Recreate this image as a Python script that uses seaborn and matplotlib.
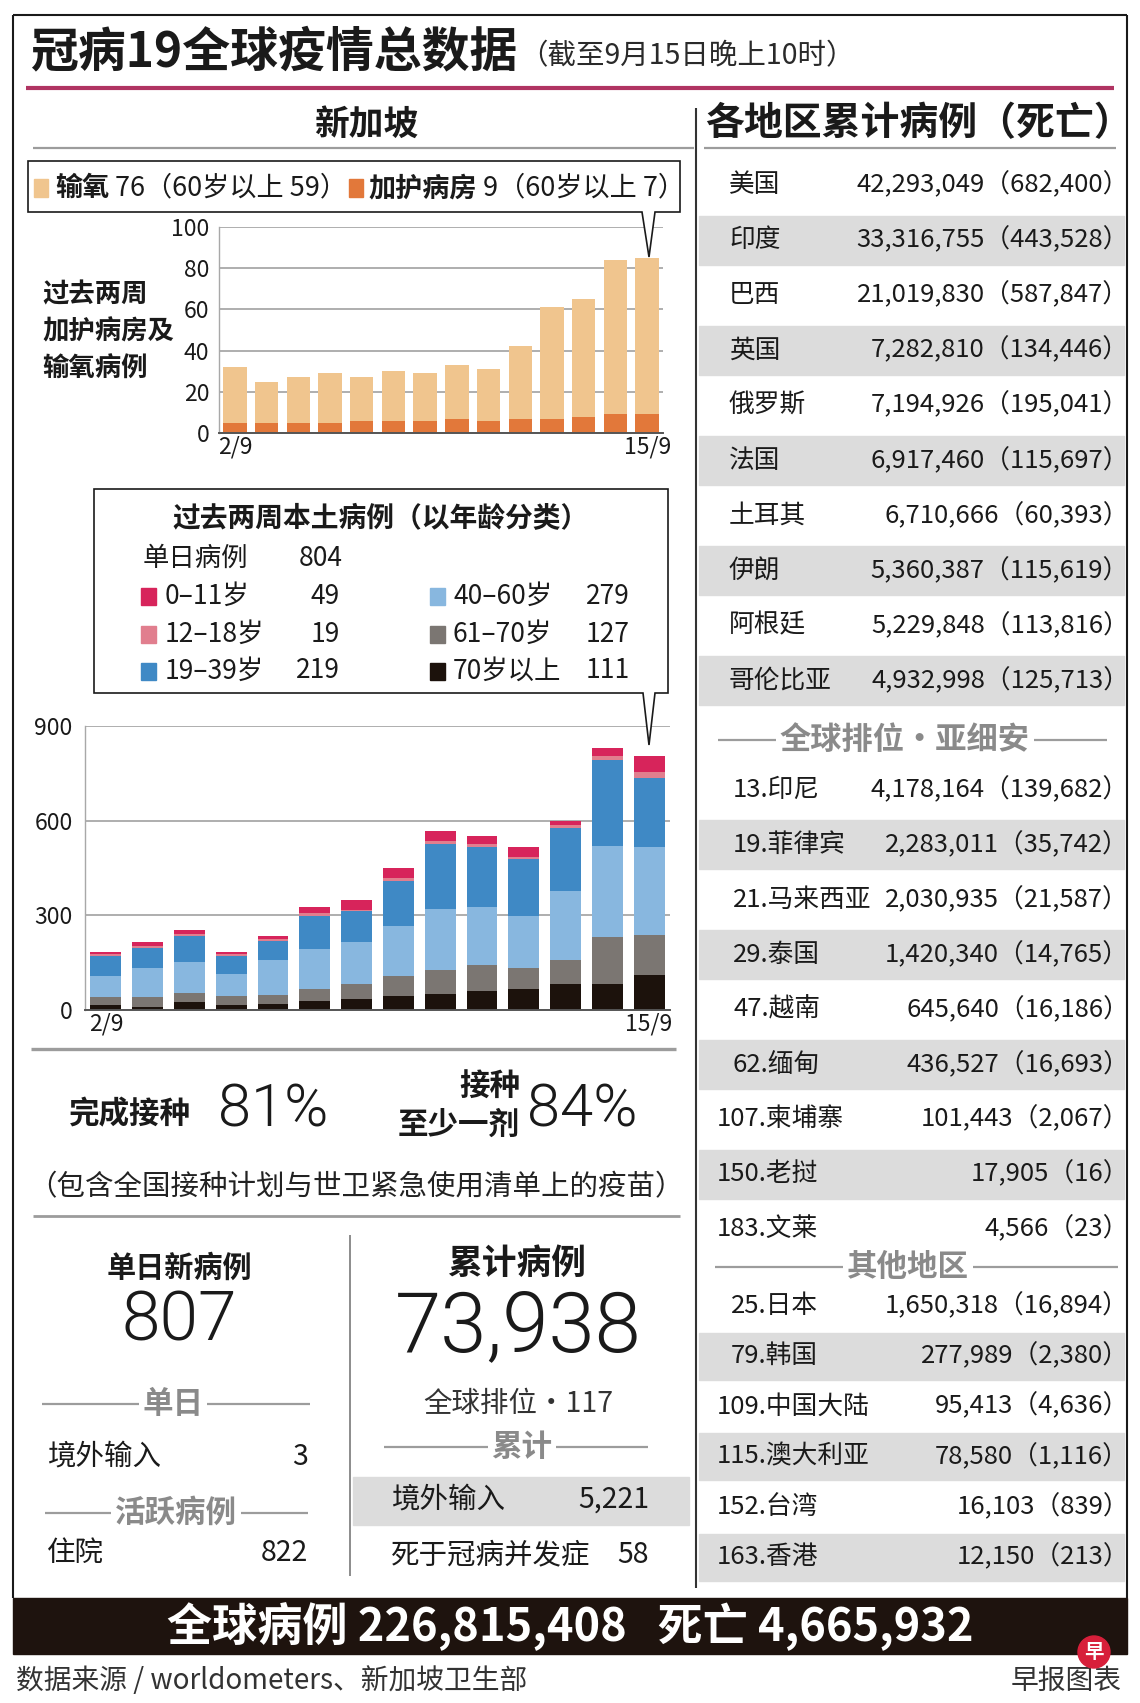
import matplotlib
matplotlib.use("Agg")
import matplotlib.pyplot as plt
import seaborn as sns
from matplotlib.patches import Rectangle, Polygon, Circle

# ---- data ----
dates = ["2/9", "3/9", "4/9", "5/9", "6/9", "7/9", "8/9", "9/9", "10/9", "11/9",
         "12/9", "13/9", "14/9", "15/9"]
icu = [5, 5, 5, 5, 6, 6, 6, 7, 6, 7, 7, 8, 9, 9]
oxygen = [27, 20, 22, 24, 21, 24, 23, 26, 25, 35, 54, 57, 75, 76]
oxygen_60 = 59
icu_60 = 7

age_labels = ["0–11岁", "12–18岁", "19–39岁", "40–60岁", "61–70岁", "70岁以上"]
age_0_11 = [9, 14, 12, 8, 10, 20, 31, 32, 31, 25, 32, 12, 27, 49]
age_12_18 = [6, 6, 6, 4, 6, 8, 4, 8, 11, 10, 8, 8, 13, 19]
age_19_39 = [62, 62, 82, 59, 60, 105, 98, 143, 206, 190, 178, 200, 272, 219]
age_40_60 = [66, 92, 97, 69, 110, 127, 133, 160, 193, 181, 165, 220, 288, 279]
age_61_70 = [26, 34, 29, 27, 30, 39, 47, 63, 75, 84, 68, 76, 149, 127]
age_70p = [16, 8, 26, 17, 18, 28, 35, 44, 51, 60, 66, 82, 82, 111]

top_names = ["美国", "印度", "巴西", "英国", "俄罗斯", "法国", "土耳其", "伊朗", "阿根廷", "哥伦比亚"]
top_cases = [42293049, 33316755, 21019830, 7282810, 7194926, 6917460, 6710666, 5360387, 5229848, 4932998]
top_deaths = [682400, 443528, 587847, 134446, 195041, 115697, 60393, 115619, 113816, 125713]

asean_rank = [13, 19, 21, 29, 47, 62, 107, 150, 183]
asean_names = ["印尼", "菲律宾", "马来西亚", "泰国", "越南", "缅甸", "柬埔寨", "老挝", "文莱"]
asean_cases = [4178164, 2283011, 2030935, 1420340, 645640, 436527, 101443, 17905, 4566]
asean_deaths = [139682, 35742, 21587, 14765, 16186, 16693, 2067, 16, 23]

other_rank = [25, 79, 109, 115, 152, 163]
other_names = ["日本", "韩国", "中国大陆", "澳大利亚", "台湾", "香港"]
other_cases = [1650318, 277989, 95413, 78580, 16103, 12150]
other_deaths = [16894, 2380, 4636, 1116, 839, 213]

vax_full = 81
vax_one = 84
daily_new = 807
daily_imported = 3
hospitalised = 822
total_cases = 73938
world_rank = 117
total_imported = 5221
sg_deaths = 58
global_cases = 226815408
global_deaths = 4665932

# ---- colours ----
TAN = "#F0C58E"
ORANGE = "#E2783A"
AGE_COLORS = ["#D7245B", "#E17E8E", "#3F89C5", "#88B7DF", "#7B7672", "#1C120C"]
BAND = "#DCDCDC"
LINE = "#9C9C9C"
DIVTXT = "#8A8A8A"

sns.set_theme(style="white")
CJK = ["Noto Sans CJK SC", "DejaVu Sans"]
NUM = ["Roboto", "Noto Sans CJK SC", "DejaVu Sans"]
plt.rcParams["font.family"] = CJK

W, H = 1140, 1703
fig = plt.figure(figsize=(W / 100, H / 100), dpi=100)
fig.patch.set_facecolor("white")

ov = fig.add_axes([0, 0, 1, 1], zorder=5)
ov.set_xlim(0, W)
ov.set_ylim(H, 0)
ov.axis("off")
ov.patch.set_alpha(0)


def rect(x0, y0, x1, y1):
    return [x0 / W, 1 - y1 / H, (x1 - x0) / W, (y1 - y0) / H]


def line(x0, x1, y0, y1, c=LINE, lw=1.6, z=2):
    ov.plot([x0, x1], [y0, y1], color=c, lw=lw, solid_capstyle="butt", zorder=z)


def txt(x, y, s, size, ha="left", weight="normal", color="#1a1a1a", family=None, **kw):
    return ov.text(x, y, s, fontsize=size, ha=ha, va="center", fontweight=weight,
                   color=color, family=family or CJK, zorder=4, **kw)


def divider(x0, x1, y, s, size, xc=None):
    line(x0, x1, y, y, c=LINE, lw=1.6)
    txt((x0 + x1) / 2 if xc is None else xc, y, s, size, ha="center", weight="bold", color=DIVTXT,
        bbox=dict(boxstyle="square,pad=0.12", fc="white", ec="none"))


renderer = fig.canvas.get_renderer()


def seq(x, y, parts, size):
    for s, w, gap in parts:
        t = txt(x, y, s, size, weight=w)
        x += t.get_window_extent(renderer).width + gap
    return x


# ---- frame and header ----
line(13, 13, 15, 1598, c="#1a1a1a", lw=1.5)
line(1127, 1127, 15, 1598, c="#1a1a1a", lw=1.5)
line(13, 1127, 15, 15, c="#1a1a1a", lw=1.5)
ov.add_patch(Rectangle((13, 1598), 1114, 56, color="#1E130E", zorder=3))

t = txt(30, 52, "冠病19全球疫情总数据", 34.5, weight="bold")
x_end = t.get_window_extent(renderer).x1
txt(x_end + 2, 56, "（截至9月15日晚上10时）", 20.5, color="#2a2a2a")
line(26, 1114, 88, 88, c="#B03462", lw=3)

txt(366, 124, "新加坡", 25, ha="center", weight="bold")
line(33, 694, 148, 148)
txt(919, 124, "各地区累计病例（死亡）", 28, ha="center", weight="bold")
line(704, 1116, 148, 148)
line(696, 696, 108, 1588, c="#333333", lw=1.5)

# ---- oxygen / ICU chart ----
box = Polygon([(28, 161), (680, 161), (680, 212), (655, 212), (649, 257),
               (642, 212), (28, 212)], closed=True, fc="white", ec="#1a1a1a", lw=1.2, zorder=3)
ov.add_patch(box)
ov.add_patch(Rectangle((34, 179), 14, 18, color=TAN, zorder=4))
x = seq(55, 188, [("输氧", "bold", 6), (f"{oxygen[-1]}（60岁以上 {oxygen_60}）", "normal", 2)], 19.5)
ov.add_patch(Rectangle((x, 179), 14, 18, color=ORANGE, zorder=4))
seq(x + 19, 188, [("加护病房", "bold", 6), (f"{icu[-1]}（60岁以上 {icu_60}）", "normal", 0)], 19.5)

for yy, s in zip([295, 332, 369], ["过去两周", "加护病房及", "输氧病例"]):
    txt(42, yy, s, 19, weight="bold")

ax1 = fig.add_axes(rect(219, 227, 663, 433))
total = [a + b for a, b in zip(icu, oxygen)]
sns.barplot(x=dates, y=total, color=TAN, width=0.74, saturation=1, linewidth=0,
            errorbar=None, ax=ax1)
sns.barplot(x=dates, y=icu, color=ORANGE, width=0.74, saturation=1, linewidth=0,
            errorbar=None, ax=ax1)
ax1.set_ylim(0, 100)
ax1.set_yticks([0, 20, 40, 60, 80, 100])

# ---- local cases by age ----
box2 = Polygon([(94, 489), (668, 489), (668, 693), (655, 693), (649, 745),
                (643, 693), (94, 693)], closed=True, fc="white", ec="#1a1a1a", lw=1.2, zorder=3)
ov.add_patch(box2)
txt(381, 519, "过去两周本土病例（以年龄分类）", 20, ha="center", weight="bold")
series = [age_0_11, age_12_18, age_19_39, age_40_60, age_61_70, age_70p]
latest = [s[-1] for s in series]
txt(143, 558, "单日病例", 19)
txt(299, 558, f"{sum(latest)}", 19)
row_y = [596, 634, 671]
for i in range(6):
    col, r = divmod(i, 3)
    sx, lx, vx = (141, 165, 340) if col == 0 else (430, 453, 630)
    ov.add_patch(Rectangle((sx, row_y[r] - 8), 15, 17, color=AGE_COLORS[i], zorder=4))
    txt(lx, row_y[r], age_labels[i], 19)
    txt(vx, row_y[r], f"{latest[i]}", 19, ha="right")

ax2 = fig.add_axes(rect(85, 726, 670, 1010))
cum = []
run = [0] * len(dates)
for s in reversed(series):
    run = [a + b for a, b in zip(run, s)]
    cum.append(run)
# draw tallest stack first so lower layers sit on top
for vals, c in zip(reversed(cum), AGE_COLORS):
    sns.barplot(x=dates, y=vals, color=c, width=0.74, saturation=1, linewidth=0,
                errorbar=None, ax=ax2)
ax2.set_ylim(0, 900)
ax2.set_yticks([0, 300, 600, 900])

for ax, pad in [(ax1, 7), (ax2, 9)]:
    ax.set_xlim(-0.5, len(dates) - 0.5)
    ax.set_xticks([0, len(dates) - 1])
    ax.set_xticklabels([dates[0], dates[-1]])
    ax.set_xlabel("")
    ax.set_ylabel("")
    ax.grid(axis="y", color="#A8A8A8", lw=1.3)
    ax.set_axisbelow(True)
    ax.patch.set_alpha(0)
    for sp in ["top", "right"]:
        ax.spines[sp].set_visible(False)
    ax.spines["left"].set_color("#A8A8A8")
    ax.spines["left"].set_linewidth(1.0)
    ax.spines["bottom"].set_color("#555555")
    ax.spines["bottom"].set_linewidth(1.4)
    ax.tick_params(axis="both", length=0, labelsize=16.5, labelcolor="#1a1a1a")
    ax.tick_params(axis="y", pad=pad)
    ax.tick_params(axis="x", pad=2)

line(31, 676, 1049, 1049, lw=2.4)

# ---- vaccination ----
txt(69, 1114, "完成接种", 22, weight="bold")
txt(218, 1110, f"{vax_full}%", 43, weight=300, family=NUM)
txt(520, 1087, "接种", 22, ha="right", weight="bold")
txt(520, 1125, "至少一剂", 22, ha="right", weight="bold")
txt(527, 1110, f"{vax_one}%", 43, weight=300, family=NUM)
txt(356, 1187, "（包含全国接种计划与世卫紧急使用清单上的疫苗）", 20.5, ha="center", color="#222222")
line(33, 680, 1216, 1216, lw=2.0)

# ---- daily / cumulative ----
line(350, 350, 1235, 1576, c="#8C8C8C", lw=1.4)
txt(179, 1268, "单日新病例", 21, ha="center", weight="bold")
txt(179, 1322, f"{daily_new}", 50, ha="center", weight=300, family=NUM)
divider(42, 310, 1404, "单日", 22, xc=173)
txt(47, 1457, "境外输入", 20.5)
txt(308, 1457, f"{daily_imported}", 20.5, ha="right")
divider(45, 308, 1513, "活跃病例", 22, xc=176)
txt(47, 1553, "住院", 20.5)
txt(308, 1553, f"{hospitalised}", 20.5, ha="right")

txt(517, 1263, "累计病例", 25, ha="center", weight="bold")
txt(518, 1328, f"{total_cases:,}", 60, ha="center", weight=300, family=NUM)
txt(518, 1404, f"全球排位·{world_rank}", 20.5, ha="center", color="#333333")
divider(384, 648, 1447, "累计", 22, xc=522)
ov.add_patch(Rectangle((353, 1477), 336, 48, color=BAND, zorder=1))
txt(391, 1500, "境外输入", 20.5)
txt(649, 1500, f"{total_imported:,}", 20.5, ha="right")
txt(391, 1555, "死于冠病并发症", 20.5)
txt(649, 1555, f"{sg_deaths}", 20.5, ha="right")

# ---- right table ----
def table(ys, labels, cases, deaths, band_h, xs):
    for i, (y, lab, c, d, x0) in enumerate(zip(ys, labels, cases, deaths, xs)):
        if i % 2 == 1:
            ov.add_patch(Rectangle((699, y - band_h / 2), 425, band_h, color=BAND, zorder=1))
        txt(x0, y, lab, 18.5)
        txt(1129, y, f"{c:,}（{d:,}）", 18.5, ha="right")


table([185 + 55.1 * i for i in range(len(top_names))], top_names, top_cases, top_deaths,
      49, [729] * len(top_names))
divider(718, 1107, 740, "全球排位·亚细安", 22.5, xc=905)
table([790 + 54.9 * i for i in range(len(asean_names))],
      [f"{r}.{n}" for r, n in zip(asean_rank, asean_names)], asean_cases, asean_deaths,
      49, [733 if r < 100 else 717 for r in asean_rank])
divider(715, 1118, 1267, "其他地区", 22, xc=908)
table([1306 + 50.2 * i for i in range(len(other_names))],
      [f"{r}.{n}" for r, n in zip(other_rank, other_names)], other_cases, other_deaths,
      47, [731 if r < 100 else 717 for r in other_rank])

# ---- bottom band and footer ----
txt(570, 1627, f"全球病例 {global_cases:,}   死亡 {global_deaths:,}", 32.5, ha="center",
    weight="bold", color="white")
txt(16, 1681, "数据来源 / worldometers、新加坡卫生部", 20, color="#333333")
txt(1122, 1681, "早报图表", 20, ha="right", color="#333333")
ov.add_patch(Circle((1094, 1652), 16, color="#D71F3A", zorder=6))
ov.text(1094, 1652, "早", fontsize=14, ha="center", va="center", color="white",
        fontweight="bold", family=CJK, zorder=7)

fig.savefig("out.png", dpi=100)
